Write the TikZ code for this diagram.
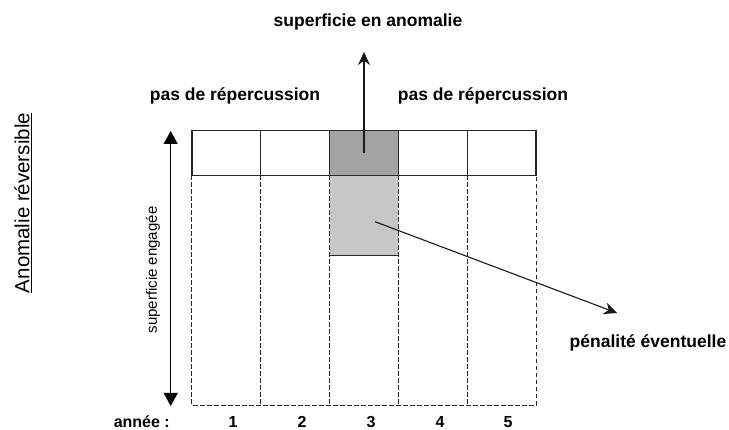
\documentclass[tikz,border=0pt]{standalone}
\usepackage{fontspec}
\setmainfont{Liberation Sans}
\usepackage{tikz}
\usetikzlibrary{arrows.meta}
\colorlet{anomaly area}{black!36}
\colorlet{penalty area}{black!22}
\colorlet{grid edge}{black!85}
\tikzset{cell/.style={draw=grid edge, line width=1.3pt, minimum width=68.8pt, minimum height=45pt, inner sep=0pt},
    column/.style={minimum width=68.8pt, minimum height=229.3pt, inner sep=0pt},
    dashes/.style={draw=grid edge, dash pattern=on 4.5pt off 2.5pt, line width=1pt},
    title/.style={font=\bfseries\fontsize{17.5}{20}\selectfont, inner sep=0pt},
    year/.style={font=\bfseries\fontsize{16}{18}\selectfont, inner sep=0pt, anchor=base},
    pointer/.style={draw=black!90, line width=1.1pt, -{Stealth[length=13pt,width=12pt]}}}

\begin{document}
\begin{tikzpicture}[x=1pt,y=-1pt]
    \useasboundingbox (0,0) rectangle (729,430);
    % penalite sous la case en anomalie
    \node[fill=penalty area, minimum width=68.8pt, minimum height=80pt, inner sep=0pt] (pen) at (364,215.7) {};
    \node[column] (c1) at (226.4,290.35) {};
    \node[column] (c2) at (295.2,290.35) {};
    \node[column] (c3) at (364,290.35) {};
    \node[column] (c4) at (432.8,290.35) {};
    \node[column] (c5) at (501.6,290.35) {};
    \draw[dashes] (c1.north west) -- (c1.south west) -- (c5.south east) -- (c5.north east);
    \draw[dashes] (c2.north west) -- (c2.south west);
    \draw[dashes] (c3.north west) -- (c3.south west);
    \draw[dashes] (c4.north west) -- (c4.south west);
    \draw[dashes] (c5.north west) -- (c5.south west);
    \draw[grid edge, line width=1.2pt] (pen.south west) -- (pen.south east);
    % ligne des superficies
    \node[cell] (a1) at (226.4,153.2) {};
    \node[cell] (a2) at (295.2,153.2) {};
    \node[cell, fill=anomaly area] (a3) at (364,153.2) {};
    \node[cell] (a4) at (432.8,153.2) {};
    \node[cell] (a5) at (501.6,153.2) {};
    % textes
    \node[title] (anom) at (368,22) {superficie en anomalie};
    \node[title] (left) at (235,96) {pas de répercussion};
    \node[title] (right) at (483,96) {pas de répercussion};
    \node[title] (penlabel) at (648,343) {pénalité éventuelle};
    \node[rotate=90, font=\fontsize{15}{17}\selectfont, inner sep=0pt] (eng) at (153,270) {superficie engagée};
    \node[rotate=90, font=\fontsize{20.5}{24}\selectfont, inner sep=0pt] (rev) at (23,203) {\underline{Anomalie réversible}};
    \node[year, anchor=base east] (y0) at (170,427.5) {année :};
    \node[year] (y1) at (233,427.5) {1};
    \node[year] (y2) at (302,427.5) {2};
    \node[year] (y3) at (371,427.5) {3};
    \node[year] (y4) at (440,427.5) {4};
    \node[year] (y5) at (508,427.5) {5};
    % fleches
    \coordinate (uptip) at (364,52);
    \coordinate (pentip) at (617,313);
    \coordinate (engtop) at (170.7,131);
    \coordinate (engbot) at (170.7,406);
    \draw[pointer] (a3.center) -- (uptip);
    \draw[pointer] (pen.center) ++(11,6) -- (pentip);
    \draw[line width=1.1pt, {Triangle[length=13pt,width=14pt]}-{Triangle[length=13pt,width=14pt]}] (engtop) -- (engbot);
\end{tikzpicture}
\end{document}
